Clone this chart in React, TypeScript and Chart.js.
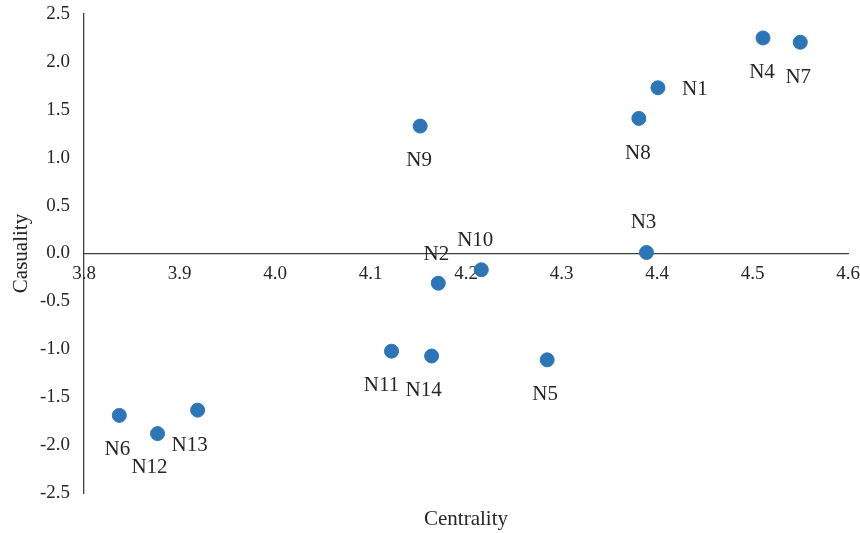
import React, { useEffect, useRef } from "react";
import { Chart, registerables } from "chart.js";

Chart.register(...registerables);

const nodeNames = ["N1", "N2", "N3", "N4", "N5", "N6", "N7", "N8", "N9", "N10", "N11", "N12", "N13", "N14"];
const centrality = [4.401, 4.171, 4.389, 4.511, 4.285, 3.837, 4.55, 4.381, 4.152, 4.216, 4.122, 3.877, 3.919, 4.164];
const casuality = [1.73, -0.31, 0.01, 2.25, -1.11, -1.69, 2.205, 1.41, 1.33, -0.17, -1.02, -1.88, -1.635, -1.07];
const xAxisTitle = "Centrality";
const yAxisTitle = "Casuality";

// label placement relative to each point (pixels): [dx, dy]
const labelOffsets: [number, number][] = [
  [37, 2], [-2, -29], [-3, -30], [-1, 35], [-2, 35], [-2, 34], [-2, 35],
  [-1, 35], [-1, 34], [-6, -29], [-10, 34], [-8, 34], [-8, 35], [-8, 34],
];

const FONT = "'Liberation Serif', 'Times New Roman', serif";
const TEXT = "#262626";

export default function App() {
  const ref = useRef<HTMLCanvasElement>(null);
  useEffect(() => {
    document.body.style.margin = "0";
    const labelPlugin = {
      id: "pointLabels",
      afterDatasetsDraw(chart: any) {
        const ctx = chart.ctx;
        const meta = chart.getDatasetMeta(0);
        ctx.save();
        ctx.font = `21px ${FONT}`;
        ctx.fillStyle = TEXT;
        ctx.textAlign = "center";
        ctx.textBaseline = "middle";
        meta.data.forEach((el: any, i: number) => {
          const [dx, dy] = labelOffsets[i];
          ctx.fillText(nodeNames[i], el.x + dx, el.y + dy);
        });
        const ca = chart.chartArea;
        ctx.fillText(xAxisTitle, (ca.left + ca.right) / 2, 519);
        ctx.restore();
      },
    };
    const chart = new Chart(ref.current!, {
      type: "scatter",
      data: {
        datasets: [
          {
            data: centrality.map((x, i) => ({ x, y: casuality[i] })),
            backgroundColor: "#2E75B6",
            borderColor: "#2E75B6",
            pointRadius: 7,
            pointHoverRadius: 7,
          },
        ],
      },
      options: {
        animation: false,
        responsive: false,
        layout: { padding: { left: 0, right: 12, top: 14, bottom: 40 } },
        plugins: { legend: { display: false }, tooltip: { enabled: false } },
        scales: {
          x: {
            type: "linear",
            position: { y: 0 } as any,
            min: 3.8,
            max: 4.6,
            afterFit: (s: any) => {
              s.paddingLeft = 0;
              s.paddingRight = 0;
            },
            grid: { display: false, drawTicks: false },
            border: { display: true, color: "#404040", width: 1.3 },
            ticks: {
              stepSize: 0.1,
              autoSkip: false,
              padding: 9,
              color: TEXT,
              font: { family: FONT, size: 19 },
              callback: (v: any) => Number(v).toFixed(1),
            },
          },
          y: {
            type: "linear",
            min: -2.5,
            max: 2.5,
            afterFit: (s: any) => {
              s.width = 84;
              s.paddingTop = 0;
              s.paddingBottom = 0;
            },
            grid: { display: false, drawTicks: false },
            border: { display: true, color: "#404040", width: 1.3 },
            title: {
              display: true,
              text: yAxisTitle,
              color: TEXT,
              font: { family: FONT, size: 21 },
              padding: { top: 9, bottom: 0 },
            },
            ticks: {
              stepSize: 0.5,
              padding: 14,
              color: TEXT,
              font: { family: FONT, size: 19 },
              callback: (v: any) => Number(v).toFixed(1),
            },
          },
        },
      },
      plugins: [labelPlugin],
    });
    return () => chart.destroy();
  }, []);
  return <canvas ref={ref} width={860} height={533} style={{ display: "block" }} />;
}
